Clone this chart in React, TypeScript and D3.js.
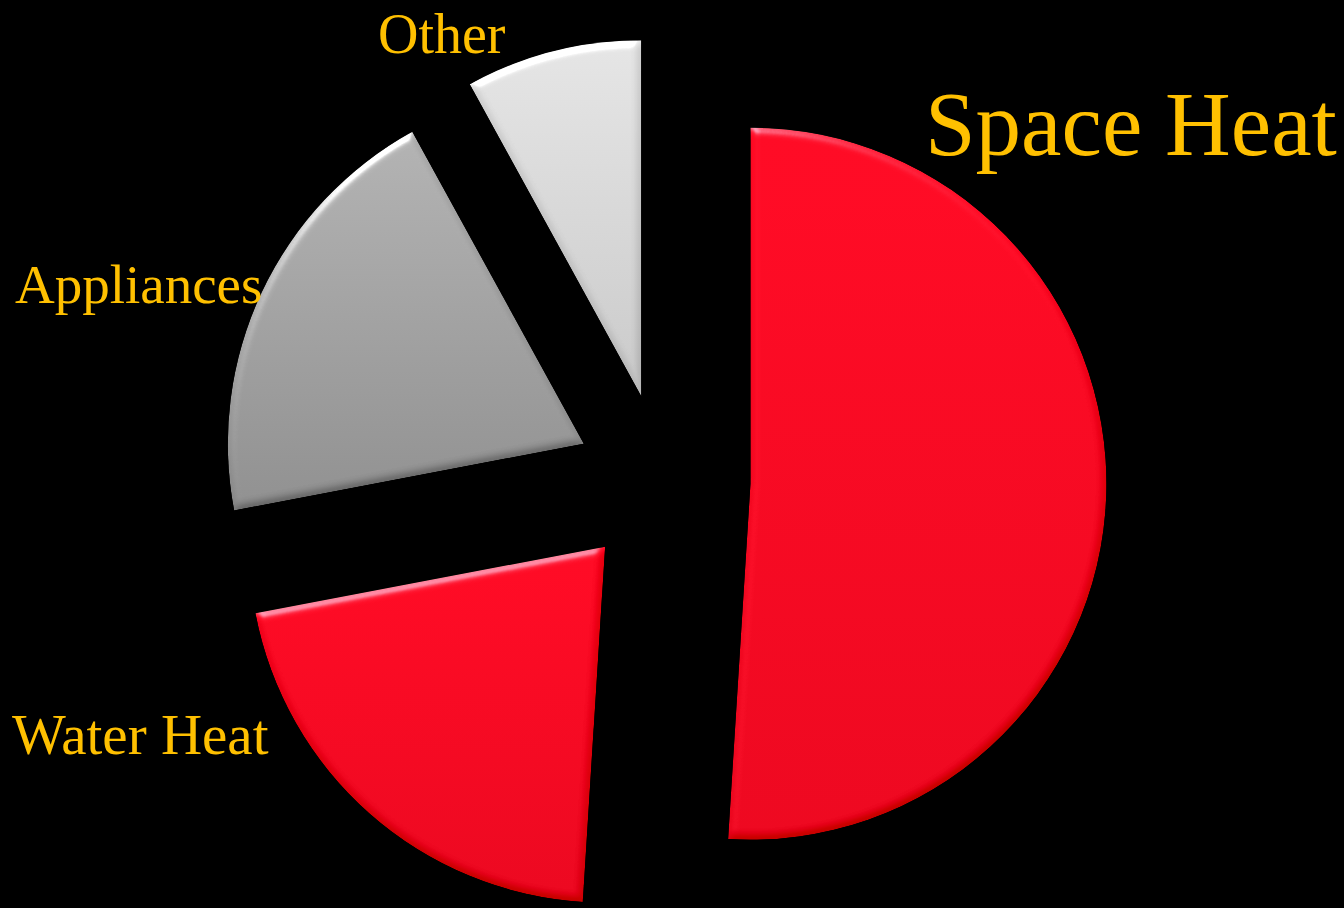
import React, { useEffect } from "react";
import * as d3 from "d3";

const categories = ["Space Heat", "Water Heat", "Appliances", "Other"];
const values = [51, 21, 20, 8];

const W = 1344;
const H = 908;
const CX = 663;
const CY = 481;
const R = 356;
const EXPLODE = 87.5;

const gradients: Record<string, [string, string]> = {
  "Space Heat": ["#ff0a24", "#ec071f"],
  "Water Heat": ["#ff0a24", "#ea071f"],
  Appliances: ["#b2b2b2", "#8f8f8f"],
  Other: ["#e4e4e4", "#c8c8c8"],
};

const labelLayout: Record<string, { x: number; y: number; size: number }> = {
  "Space Heat": { x: 925, y: 155, size: 91 },
  "Water Heat": { x: 12, y: 754, size: 57 },
  Appliances: { x: 15, y: 303, size: 55 },
  Other: { x: 378, y: 53, size: 56 },
};

export default function App() {
  useEffect(() => {
    document.body.style.margin = "0";
    document.body.style.background = "#000";
  }, []);

  const data = categories.map((c, i) => ({ name: c, value: values[i] }));
  const pie = d3
    .pie<{ name: string; value: number }>()
    .sort(null)
    .value((d) => d.value)
    .startAngle(0)
    .endAngle(2 * Math.PI);
  const arcs = pie(data);
  const arc = d3
    .arc<d3.PieArcDatum<{ name: string; value: number }>>()
    .innerRadius(0)
    .outerRadius(R);

  return (
    <svg width={W} height={H} style={{ display: "block", background: "#000" }}>
      <defs>
        {categories.map((c, i) => (
          <linearGradient key={c} id={`g${i}`} x1="0" y1="0" x2="0" y2="1">
            <stop offset="0%" stopColor={gradients[c][0]} />
            <stop offset="100%" stopColor={gradients[c][1]} />
          </linearGradient>
        ))}
        <filter
          id="bevel"
          x="-5%"
          y="-5%"
          width="110%"
          height="110%"
          colorInterpolationFilters="sRGB"
        >
          <feGaussianBlur in="SourceAlpha" stdDeviation="4" result="b" />
          <feDiffuseLighting
            in="b"
            surfaceScale="4"
            diffuseConstant="1"
            lightingColor="#ffffff"
            result="d"
          >
            <feDistantLight azimuth="250" elevation="55" />
          </feDiffuseLighting>
          <feComposite
            in="SourceGraphic"
            in2="d"
            operator="arithmetic"
            k1="0"
            k2="1"
            k3="0.3"
            k4="-0.246"
            result="c"
          />
          <feSpecularLighting
            in="b"
            surfaceScale="4"
            specularConstant="0.5"
            specularExponent="25"
            lightingColor="#ffffff"
            result="s"
          >
            <feDistantLight azimuth="250" elevation="25" />
          </feSpecularLighting>
          <feComposite
            in="c"
            in2="s"
            operator="arithmetic"
            k1="0"
            k2="1"
            k3="1"
            k4="0"
            result="c2"
          />
          <feComposite in="c2" in2="SourceAlpha" operator="in" />
        </filter>
      </defs>
      <rect x={0} y={0} width={W} height={H} fill="#000" />
      <g transform={`translate(${CX},${CY})`}>
        {arcs.map((a, i) => {
          const mid = (a.startAngle + a.endAngle) / 2;
          const dx = Math.sin(mid) * EXPLODE;
          const dy = -Math.cos(mid) * EXPLODE;
          return (
            <path
              key={a.data.name}
              d={arc(a) || ""}
              transform={`translate(${dx},${dy})`}
              fill={`url(#g${i})`}
              filter="url(#bevel)"
            />
          );
        })}
      </g>
      {categories.map((c) => (
        <text
          key={c}
          x={labelLayout[c].x}
          y={labelLayout[c].y}
          fill="#ffc000"
          fontFamily="'Liberation Serif', 'Times New Roman', serif"
          fontSize={labelLayout[c].size}
        >
          {c}
        </text>
      ))}
    </svg>
  );
}
